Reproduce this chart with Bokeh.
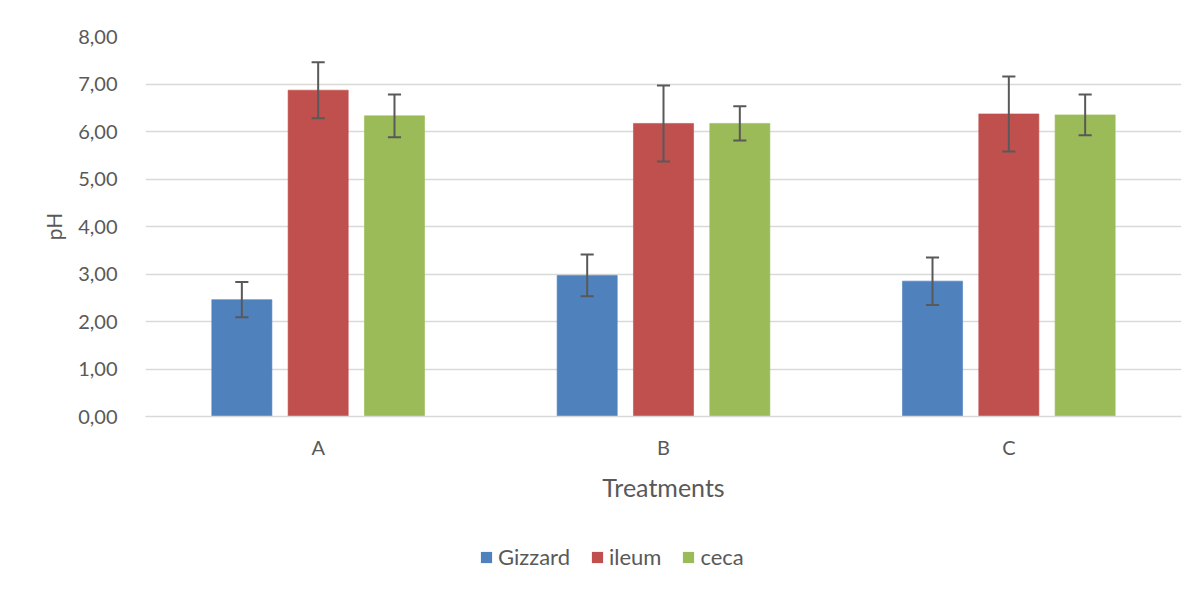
from bokeh.plotting import figure
from bokeh.layouts import column
from bokeh.models import ColumnDataSource, Legend, LegendItem, FactorRange, Range1d, FixedTicker, CustomJSTickFormatter
from bokeh.transform import dodge
from bokeh.embed import file_html
from bokeh.resources import INLINE

treatments = ["A", "B", "C"]
series = ["Gizzard", "ileum", "ceca"]
gizzard = [2.46, 2.97, 2.85]
gizzard_err = [0.37, 0.44, 0.50]
ileum = [6.87, 6.17, 6.37]
ileum_err = [0.59, 0.80, 0.79]
ceca = [6.33, 6.17, 6.35]
ceca_err = [0.45, 0.36, 0.43]
colors = ["#4F81BD", "#C0504D", "#9BBB59"]
y_ticks = [0, 1, 2, 3, 4, 5, 6, 7, 8]

FONT = "Lato"
TXT = "#595959"

p = figure(x_range=FactorRange(*treatments), y_range=Range1d(0, 8),
           frame_width=1036, frame_height=380, output_backend="svg", toolbar_location=None,
           min_border_left=145, min_border_right=10, min_border_top=36, min_border_bottom=100)
p.outline_line_color = None

# separate strip for the legend (below the chart); its frame aligns with the chart frame
p2 = figure(width=1191, height=70, x_range=FactorRange(*series), y_range=Range1d(0, 1),
            x_axis_type=None, y_axis_type=None, output_backend="svg", toolbar_location=None,
            min_border=0)
p2.outline_line_color = None
p2.xgrid.grid_line_color = None
p2.ygrid.grid_line_color = None

vals = [gizzard, ileum, ceca]
errs = [gizzard_err, ileum_err, ceca_err]
offsets = [-0.221, 0.0, 0.221]
bw = 0.174
cap = 0.019
items = []
for name, v, e, off, c in zip(series, vals, errs, offsets, colors):
    src = ColumnDataSource(dict(cat=treatments, top=v,
                                lo=[a - b for a, b in zip(v, e)],
                                hi=[a + b for a, b in zip(v, e)]))
    p.vbar(x=dodge("cat", off, range=p.x_range), top="top", width=bw, source=src,
           fill_color=c, line_color=c, line_alpha=0.6)
    p.segment(x0=dodge("cat", off, range=p.x_range), x1=dodge("cat", off, range=p.x_range),
              y0="lo", y1="hi", source=src, line_color="#595959", line_width=2)
    for yk in ["lo", "hi"]:
        p.segment(x0=dodge("cat", off - cap, range=p.x_range), x1=dodge("cat", off + cap, range=p.x_range),
                  y0=yk, y1=yk, source=src, line_color="#595959", line_width=2)
    # invisible proxy bar (zero height) that only provides the legend swatch
    lsrc = ColumnDataSource(dict(s=[name], top=[0]))
    lr = p2.vbar(x="s", top="top", width=0.0, source=lsrc, fill_color=c, line_color=c, line_alpha=0)
    items.append(LegendItem(label=name, renderers=[lr]))

p.xgrid.grid_line_color = None
p.ygrid.grid_line_color = "#D9D9D9"
p.ygrid.grid_line_width = 1.5
p.ygrid.level = "underlay"

p.yaxis.ticker = FixedTicker(ticks=y_ticks)
p.yaxis.formatter = CustomJSTickFormatter(code="return tick.toFixed(2).replace('.', ',');")
p.yaxis.axis_line_color = None
p.yaxis.major_tick_line_color = None
p.yaxis.minor_tick_line_color = None
p.yaxis.major_label_text_font = FONT
p.yaxis.major_label_text_font_size = "20px"
p.yaxis.major_label_text_color = TXT
p.yaxis.major_label_standoff = 22
p.yaxis.axis_label = "pH"
p.yaxis.axis_label_text_font = FONT
p.yaxis.axis_label_text_font_size = "21px"
p.yaxis.axis_label_text_font_style = "normal"
p.yaxis.axis_label_text_color = TXT
p.yaxis.axis_label_standoff = 9

p.xaxis.axis_line_color = "#D9D9D9"
p.xaxis.axis_line_width = 1.5
p.xaxis.major_tick_line_color = None
p.xaxis.minor_tick_line_color = None
p.xaxis.major_label_text_font = FONT
p.xaxis.major_label_text_font_size = "20px"
p.xaxis.major_label_text_color = TXT
p.xaxis.major_label_standoff = 12
p.xaxis.axis_label = "Treatments"
p.xaxis.axis_label_text_font = FONT
p.xaxis.axis_label_text_font_size = "25px"
p.xaxis.axis_label_text_font_style = "normal"
p.xaxis.axis_label_text_color = TXT
p.xaxis.axis_label_standoff = 10

legend = Legend(items=items, orientation="horizontal", location=(334, 16),
                glyph_width=14, glyph_height=14, label_text_font=FONT,
                label_text_font_size="22px", label_text_color=TXT,
                border_line_color=None, background_fill_alpha=0,
                spacing=20, label_standoff=5, margin=0, padding=0)
p2.add_layout(legend, "center")

layout = column(p, p2, spacing=0)
open("out.html", "w").write(file_html(layout, INLINE))
